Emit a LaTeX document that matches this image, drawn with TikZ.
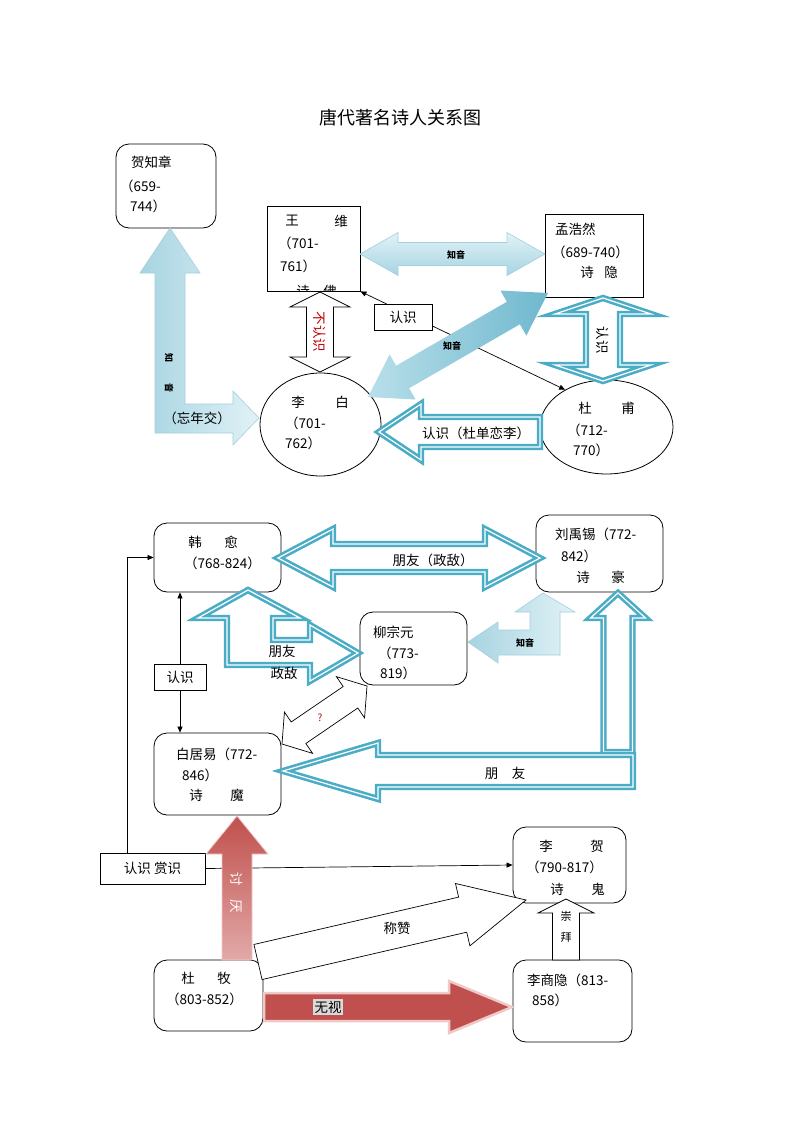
\documentclass[tikz,border=0pt]{standalone}
\usepackage{fontspec}
\setmainfont{Noto Sans CJK SC}
\usetikzlibrary{calc,arrows.meta,shapes.geometric}
\definecolor{teal2}{HTML}{4BACC6}
\definecolor{lbA}{HTML}{E2F2F7}
\definecolor{lbB}{HTML}{A6D4E1}
\definecolor{lbline}{HTML}{A3D0DD}
\definecolor{dbA}{HTML}{B9DFEA}
\definecolor{dbB}{HTML}{6FB8CE}
\definecolor{redA}{HTML}{C0504D}
\definecolor{redB}{HTML}{E2A9A7}
\definecolor{pinkline}{HTML}{EFC9C8}
\definecolor{darkred}{HTML}{C00000}
\definecolor{graybg}{HTML}{D9D9D9}
\newcommand\SArr[6][]{%
  \coordinate (aa) at (#2);\coordinate (bb) at (#3);
  \coordinate (hh) at ($(bb)!#6!(aa)$);
  \path[#1] ($(aa)!#4!90:(bb)$) -- ($(hh)!#4!90:(bb)$) -- ($(hh)!#5!90:(bb)$) -- (bb)
    -- ($(hh)!#5!-90:(bb)$) -- ($(hh)!#4!-90:(bb)$) -- ($(aa)!#4!-90:(bb)$) -- cycle;}
\newcommand\DArr[6][]{%
  \coordinate (aa) at (#2);\coordinate (bb) at (#3);
  \coordinate (ha) at ($(aa)!#6!(bb)$);\coordinate (hb) at ($(bb)!#6!(aa)$);
  \path[#1] (aa) -- ($(ha)!#5!90:(bb)$) -- ($(ha)!#4!90:(bb)$) -- ($(hb)!#4!90:(bb)$) -- ($(hb)!#5!90:(bb)$) -- (bb)
    -- ($(hb)!#5!-90:(bb)$) -- ($(hb)!#4!-90:(bb)$) -- ($(ha)!#4!-90:(bb)$) -- ($(ha)!#5!-90:(bb)$) -- cycle;}
\begin{document}
\begin{tikzpicture}[x=1pt,y=-1pt,
  rbox/.style={draw,rounded corners=13pt,line width=0.8pt,fill=white,inner sep=0pt},
  sqbox/.style={draw,line width=0.8pt,fill=white,inner sep=0pt},
  ebox/.style={draw,ellipse,line width=0.8pt,fill=white,inner sep=0pt},
  txt/.style={font=\fontsize{13.5}{16}\selectfont,inner sep=0pt},
  small/.style={font=\fontsize{9}{10}\selectfont\bfseries,inner sep=0pt},
  tealarr/.style={draw=teal2,line width=2.6pt,double=white,double distance=1.2pt,fill=white,line join=miter},
  blkarr/.style={draw=black,line width=0.7pt,fill=white},
  lbgrad/.style={draw=lbline,line width=0.6pt,top color=lbA,bottom color=lbB},
  lbgradh/.style={draw=lbline,line width=0.6pt,left color=lbB,right color=lbA},
  dbgrad/.style={draw=none,left color=dbA,right color=dbB},
  redgrad/.style={draw=pinkline,line width=0.8pt,top color=redA,bottom color=redB},
  redsolid/.style={draw=pinkline,line width=2.5pt,fill=redA},
  >={Triangle[length=6pt,width=5pt]}]
\useasboundingbox (0,0) rectangle (800,1132);
\fill[white] (0,0) rectangle (800,1132);

% title
\node[font=\fontsize{18}{20}\selectfont,inner sep=0pt] (title) at (400,118) {唐代著名诗人关系图};

% ---------- top part: boxes ----------
\node[rbox,minimum width=100pt,minimum height=84pt] (hzz) at (166,186) {};
\node[sqbox,minimum width=93pt,minimum height=85pt] (wangwei) at (313.5,248.5) {};
\node[sqbox,minimum width=98pt,minimum height=83pt] (mhr) at (594,255.5) {};
\node[ebox,minimum width=121pt,minimum height=103pt] (libai) at (320.5,424.5) {};
\node[ebox,minimum width=133pt,minimum height=94pt] (dufu) at (606.5,427) {};

% thin connector 王维 <-> 杜甫
\draw[line width=0.7pt,<->] (wangwei.south east) -- (dufu.138);
\node[sqbox,minimum width=58pt,minimum height=26pt,txt] (rs1) at (403,317) {认识};

% block arrows (top)
\path[lbgradh] (170,228) -- (200,273) -- (185,273) -- (185,404) -- (233,404) -- (233,391)
  -- (259,418) -- (233,445) -- (233,433) -- (155,433) -- (155,273) -- (140,273) -- cycle;
\DArr[lbgrad]{360,254}{545,254}{11.5pt}{21.5pt}{38pt}
\DArr[blkarr]{320,292}{320,372}{13.5pt}{30pt}{15pt}
\DArr[dbgrad]{368,397}{548,293}{13pt}{26pt}{40pt}
\DArr[tealarr]{603,298}{603,381}{17pt}{48pt}{16pt}
\SArr[tealarr]{540,432}{379,432}{15pt}{28pt}{42pt}

% labels on arrows (top)
\node[txt] (wnj) at (197,418) {（忘年交）};
\node[small,rotate=-90] (zy1a) at (169,358) {知};
\node[small,rotate=-90] (zy1b) at (169,388) {音};
\node[small] (zy2) at (456,255) {知音};
\node[small] (zy3) at (452,346) {知音};
\node[txt,rotate=-90,text=darkred] (brs) at (320,332) {不认识};
\node[txt,rotate=-90] (rs4) at (603,340) {认识};
\node[txt] (rs5) at (476,433) {认识（杜单恋李）};

% texts (top)
\node[txt,anchor=west] (hzz1) at (131,162) {贺知章};
\node[txt,anchor=west] (hzz2) at (120,186) {（659-};
\node[txt,anchor=west] (hzz3) at (130,206) {744）};
\node[txt] (ww1) at (292,221) {王};
\node[txt] (ww2) at (341,221) {维};
\node[txt,anchor=west] (ww3) at (278,243) {（701-};
\node[txt,anchor=west] (ww4) at (280,266) {761）};
\begin{scope}
\clip (wangwei.north west) rectangle (wangwei.south east);
\node[txt] (ww5) at (303,291) {诗};
\node[txt] (ww6) at (330,291) {佛};
\end{scope}
\node[txt,anchor=west] (mhr1) at (555,229) {孟浩然};
\node[txt,anchor=west] (mhr2) at (552,252) {（689-740）};
\node[txt] (mhr3) at (587,272) {诗};
\node[txt] (mhr4) at (611,272) {隐};
\node[txt] (lb1) at (298,402) {李};
\node[txt] (lb2) at (342,402) {白};
\node[txt,anchor=west] (lb3) at (285,423) {（701-};
\node[txt,anchor=west] (lb4) at (285,443) {762）};
\node[txt] (df1) at (585,408) {杜};
\node[txt] (df2) at (628,408) {甫};
\node[txt,anchor=west] (df3) at (567,430) {（712-};
\node[txt,anchor=west] (df4) at (573,450) {770）};

% ---------- bottom part: boxes ----------
\node[rbox,minimum width=127pt,minimum height=69pt] (hanyu) at (217.5,557.5) {};
\node[rbox,minimum width=127pt,minimum height=77pt] (lyx) at (599.5,553.5) {};
\node[rbox,minimum width=107pt,minimum height=73pt] (lzy) at (413.5,648.5) {};
\node[rbox,minimum width=127pt,minimum height=82pt] (bjy) at (217.5,774) {};
\node[rbox,minimum width=113pt,minimum height=76pt] (lihe) at (569.5,865) {};
\node[rbox,minimum width=109pt,minimum height=71pt] (dumu) at (208.5,995.5) {};
\node[rbox,minimum width=119pt,minimum height=82pt] (lsy) at (572.5,1001) {};

% thin connectors
\node[sqbox,minimum width=52pt,minimum height=26pt,txt] (rs2) at (180,677) {认识};
\draw[line width=0.7pt,->] (rs2) -- (rs2 |- hanyu.south);
\draw[line width=0.7pt,->] (rs2) -- (rs2 |- bjy.north);
\node[sqbox,minimum width=105pt,minimum height=31pt,txt] (rs3) at (152.5,868.5) {认识\ 赏识};
\draw[line width=0.7pt,->] ($(rs3.north west)+(28,0)$) |- (hanyu.west);
\draw[line width=0.7pt,->] (rs3.east) -- (lihe.west);

% block arrows (bottom)
\DArr[tealarr]{278,558}{540,558}{14pt}{29pt}{55pt}
\path[tealarr] (248,590) -- (300,618) -- (273,618) -- (273,640) -- (310,640) -- (310,625)
  -- (358,653) -- (310,681) -- (310,665) -- (227,665) -- (227,618) -- (198,618) -- cycle;
\path[lbgradh] (543,593) -- (575,612) -- (560,612) -- (560,655) -- (498,655) -- (498,663)
  -- (468,642) -- (498,622) -- (498,630) -- (530,630) -- (530,612) -- (515,612) -- cycle;
\SArr[tealarr]{618,752}{618,593}{14.5pt}{27.5pt}{25pt}
\SArr[tealarr]{633,771}{283,771}{16pt}{28pt}{95pt}
\DArr[blkarr]{282,744}{367,686}{13pt}{25pt}{20pt}
\SArr[blkarr]{258,962}{526,900}{18pt}{32pt}{65pt}
\SArr[blkarr]{566,960}{566,899}{13.5pt}{28pt}{14pt}
\SArr[redgrad]{237,960}{237,816}{15pt}{31pt}{38pt}
\SArr[redsolid]{264,1007}{512,1007}{14pt}{26pt}{63pt}

% labels on arrows (bottom)
\node[txt] (py1) at (433,560) {朋友（政敌）};
\node[txt] (py2) at (282,651) {朋友};
\node[txt] (zd) at (284,673) {政敌};
\node[small] (zy4) at (525,643) {知音};
\node[txt] (py3) at (505,773) {朋　友};
\node[font=\fontsize{10}{11}\selectfont,text=darkred,inner sep=0pt] (q) at (320,718) {?};
\node[txt] (cz) at (397,928) {称赞};
\node[txt,rotate=-90,text=white] (ty) at (237,893) {讨　厌};
\node[txt,fill=graybg,inner sep=1.5pt] (ws) at (328,1007) {无视};
\node[font=\fontsize{11}{12}\selectfont,inner sep=0pt] (cb1) at (566,916) {崇};
\node[font=\fontsize{11}{12}\selectfont,inner sep=0pt] (cb2) at (566,937) {拜};

% texts (bottom)
\node[txt] (hy1) at (195,542) {韩};
\node[txt] (hy2) at (231,542) {愈};
\node[txt,anchor=west] (hy3) at (184,563) {（768-824）};
\node[txt,anchor=west] (lyx1) at (555,534) {刘禹锡（772-};
\node[txt,anchor=west] (lyx2) at (561,556) {842）};
\node[txt] (lyx3) at (583,577) {诗};
\node[txt] (lyx4) at (618,577) {豪};
\node[txt,anchor=west] (lzy1) at (373,632) {柳宗元};
\node[txt,anchor=west] (lzy2) at (378,653) {（773-};
\node[txt,anchor=west] (lzy3) at (380,673) {819）};
\node[txt,anchor=west] (bjy1) at (176,754) {白居易（772-};
\node[txt,anchor=west] (bjy2) at (182,775) {846）};
\node[txt] (bjy3) at (196,795) {诗};
\node[txt] (bjy4) at (237,795) {魔};
\node[txt] (lh1) at (546,846) {李};
\node[txt] (lh2) at (597,846) {贺};
\node[txt,anchor=west] (lh3) at (526,867) {（790-817）};
\node[txt] (lh4) at (557,889) {诗};
\node[txt] (lh5) at (598,889) {鬼};
\node[txt] (dm1) at (188,978) {杜};
\node[txt] (dm2) at (224,978) {牧};
\node[txt,anchor=west] (dm3) at (166,999) {（803-852）};
\node[txt,anchor=west] (lsy1) at (527,980) {李商隐（813-};
\node[txt,anchor=west] (lsy2) at (532,1000) {858）};
\end{tikzpicture}
\end{document}
